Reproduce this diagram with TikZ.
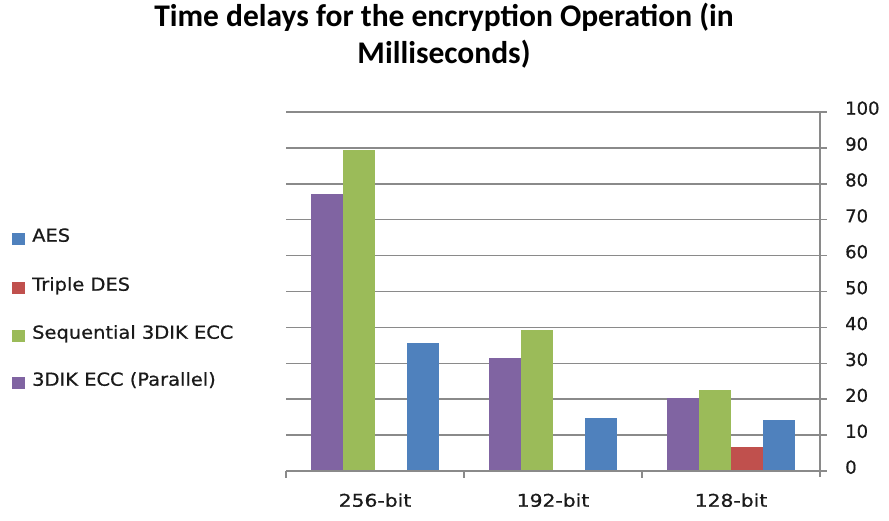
\documentclass[tikz,border=0pt]{standalone}
\usepackage{fontspec}
\setmainfont{DejaVu Sans}
\newfontfamily\labelfont[FakeBold=0.6]{DejaVu Sans}
\newfontfamily\titlefont{Carlito}
\definecolor{aesblue}{HTML}{4F81BD}
\definecolor{desred}{HTML}{C0504D}
\definecolor{seqgreen}{HTML}{9BBB59}
\definecolor{parpurple}{HTML}{8064A2}
\definecolor{gridgray}{HTML}{8A8A8A}
\definecolor{labelink}{HTML}{1A1A1A}
\tikzset{
  gridline/.style={draw=gridgray, line width=1.6pt},
  axisline/.style={draw=gridgray, line width=1.6pt},
  labelfont/.style={inner sep=0pt, text=labelink},
  ticklabel/.style={labelfont, anchor=mid west, font=\labelfont\fontsize{18}{20}\selectfont},
  catlabel/.style={labelfont, anchor=mid, xscale=1.16, font=\labelfont\fontsize{17.5}{20}\selectfont},
  legendtext/.style={labelfont, anchor=mid west, xscale=1.08, font=\labelfont\fontsize{18}{20}\selectfont},
  titletext/.style={anchor=mid, inner sep=0pt, text=black, font=\titlefont\bfseries\fontsize{31.5}{34}\selectfont},
}
\begin{document}
\begin{tikzpicture}[x=1pt,y=-1pt]
\useasboundingbox (0,0) rectangle (889,521);

% title
\node[titletext] (title1) at (444,24) {Time delays for the encryption Operation (in};
\node[titletext] (title2) at (444,61) {Milliseconds)};

% value axis: 0 at y=471, 3.59 units per millisecond, values upward
\begin{scope}[shift={(0,471)}, y=3.59pt]
  % gridlines (extending past the axis as ticks)
  \foreach \v in {10,20,...,100}
    \draw[gridline] (286,\v) -- (827,\v);
  % bars: purple, green, red, blue in each category
  \foreach \c/\p/\g/\r/\b in {286/77.2/89.4/0/35.7, 464/31.5/39.2/0/14.8, 642/20.2/22.6/6.6/14.2}{
    \fill[parpurple] (\c+25,0) rectangle (\c+57,\p);
    \fill[seqgreen]  (\c+57,0) rectangle (\c+89,\g);
    \fill[desred]    (\c+89,0) rectangle (\c+121,\r);
    \fill[aesblue]   (\c+121,0) rectangle (\c+153,\b);
  }
  % axes
  \draw[axisline] (286,0) -- (827,0);
  \draw[axisline] (820,-1.6) -- (820,100);
  \foreach \x in {286,464,642}
    \draw[axisline] (\x,0) -- (\x,-2);
  % tick labels
  \foreach \v in {0,10,...,100}
    \node[ticklabel] (t\v) at (845,\v) {\v};
\end{scope}

% category labels
\node[catlabel] (c256) at (375,504) {256-bit};
\node[catlabel] (c192) at (553,504) {192-bit};
\node[catlabel] (c128) at (731,504) {128-bit};

% legend
\foreach \n/\col/\y/\txt in {aes/aesblue/239/AES, des/desred/288/Triple DES, seq/seqgreen/336/Sequential 3DIK ECC, par/parpurple/383/3DIK ECC (Parallel)}{
  \fill[\col] (12,\y-6) rectangle (25,\y+6);
  \node[legendtext] (leg\n) at (32,\y) {\txt};
}
\end{tikzpicture}
\end{document}
